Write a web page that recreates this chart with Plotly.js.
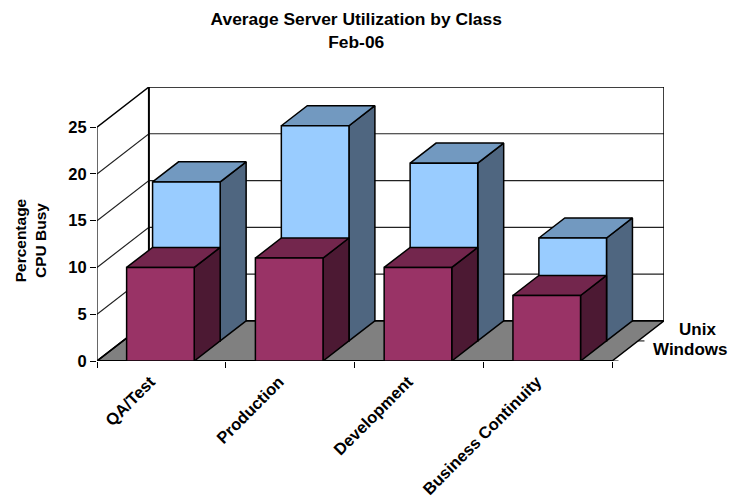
<!DOCTYPE html>
<html>
<head>
<meta charset="utf-8">
<script src="https://cdn.plot.ly/plotly-3.0.1.min.js"></script>
<style>html,body{margin:0;padding:0;background:#fff}</style>
</head>
<body>
<div id="chart" style="width:730px;height:499px"></div>
<script>
const categories = ['QA/Test', 'Production', 'Development', 'Business Continuity'];
const seriesNames = ['Windows', 'Unix'];
const windowsValues = [10, 11, 10, 7];
const unixValues = [17, 23, 19, 11];
const yTicks = [0, 5, 10, 15, 20, 25];

const font = 'Liberation Sans, Arial, sans-serif';
// oblique projection of depth (0 front .. 1 back) onto the two axes
const depthX = 52 / 129, depthY = 40 / 9.32;
const barStart = 0.23, barEnd = 0.755;
const px = (x, z) => x + z * depthX;
const py = (y, z) => y + z * depthY;
const traces = [];

function poly(pts, fill, lineColor, width) {
  const pgon = {
    type: 'scatter', mode: 'lines', hoverinfo: 'skip', showlegend: false, cliponaxis: false,
    x: pts.map(p => px(p[0], p[2])), y: pts.map(p => py(p[1], p[2])),
    line: {color: lineColor || '#000', width: width === undefined ? 1.5 : width}
  };
  if (fill) { pgon.fill = 'toself'; pgon.fillcolor = fill; }
  traces.push(pgon);
}

const xMax = categories.length;
// floor
poly([[0,0,0],[xMax,0,0],[xMax,0,1],[0,0,1],[0,0,0]], '#808080', '#000', 1.5);
// gridlines on side wall and back wall
yTicks.forEach(v => {
  if (v === 0) return;
  poly([[0,v,0],[0,v,1],[xMax,v,1]], null, v === 25 ? '#000' : '#222', v === 25 ? 1.5 : 1.2);
});
// wall edges
poly([[0,0,1],[0,25,1]], null, '#000', 2);
poly([[xMax,0,1],[xMax,25,1]], null, '#000', 1.5);
poly([[0,0,0],[0,25,0]], null, '#000', 1.2);
poly([[0,0,0],[0,0,1],[xMax,0,1]], null, '#000', 1.5);
poly([[0,0,0],[xMax,0,0]], null, '#000', 2);
// depth ticks
[0, 0.5, 1].forEach(z => {
  poly([[xMax,0,z],[xMax + 0.05,0,z]], null, '#000', 1);
});

function bar(i, v, z0, z1, front, top, side) {
  const a = i + barStart, b = i + barEnd;
  poly([[b,0,z0],[b,0,z1],[b,v,z1],[b,v,z0],[b,0,z0]], side);
  poly([[a,v,z0],[b,v,z0],[b,v,z1],[a,v,z1],[a,v,z0]], top);
  poly([[a,0,z0],[b,0,z0],[b,v,z0],[a,v,z0],[a,0,z0]], front);
}
unixValues.forEach((v, i) => bar(i, v, 0.5, 1, '#99CCFF', '#7299C0', '#4F6680'));
windowsValues.forEach((v, i) => bar(i, v, 0, 0.5, '#993366', '#73264D', '#4C1933'));

const bold = {family: font, size: 17, color: '#000'};
const layout = {
  width: 730, height: 499,
  margin: {l: 97, r: 66, t: 87, b: 138},
  paper_bgcolor: '#fff', plot_bgcolor: '#fff',
  showlegend: false,
  title: {
    text: '<b>Average Server Utilization by Class<br>Feb-06</b>',
    font: {family: font, size: 17.4, color: '#000'},
    x: 0.488, xanchor: 'center', y: 0.95, yanchor: 'top'
  },
  xaxis: {
    range: [0, xMax + depthX], showgrid: false, zeroline: false, showline: false,
    tickmode: 'array', tickvals: categories.map((c, i) => i + 0.5),
    ticktext: categories.map(c => '<b>' + c + '</b>'),
    tickangle: -45, ticks: '', tickfont: {family: font, size: 16.5, color: '#000'},
    ticklabelstandoff: 7, ticklabelshift: -11,
    minor: {tickmode: 'array', tickvals: [0, 1, 2, 3, 4], ticks: 'outside', ticklen: 6, tickcolor: '#000', tickwidth: 1, showgrid: false}
  },
  yaxis: {
    range: [0, 25 + depthY], showgrid: false, zeroline: false, showline: false,
    tickmode: 'array', tickvals: yTicks, ticktext: yTicks.map(v => '<b>' + v + '</b>'),
    ticks: 'outside', ticklen: 6, tickcolor: '#000', tickwidth: 1,
    tickfont: {family: font, size: 16.5, color: '#000'}
  },
  annotations: [
    {text: '<b>Percentage<br>CPU Busy</b>', textangle: -90, xref: 'paper', yref: 'y', x: 0, y: 12.9,
     xanchor: 'center', yanchor: 'middle', xshift: -67, showarrow: false, font: {family: font, size: 15.5, color: '#000'}},
    {text: '<b>' + seriesNames[0] + '</b>', xref: 'x', yref: 'y', x: px(xMax, 0.275), y: py(0, 0.275),
     xanchor: 'left', yanchor: 'middle', xshift: 25, showarrow: false, font: bold},
    {text: '<b>' + seriesNames[1] + '</b>', xref: 'x', yref: 'y', x: px(xMax, 0.775), y: py(0, 0.775),
     xanchor: 'left', yanchor: 'middle', xshift: 25, showarrow: false, font: bold}
  ]
};
Plotly.newPlot('chart', traces, layout, {displayModeBar: false, staticPlot: true});
</script>
</body>
</html>
